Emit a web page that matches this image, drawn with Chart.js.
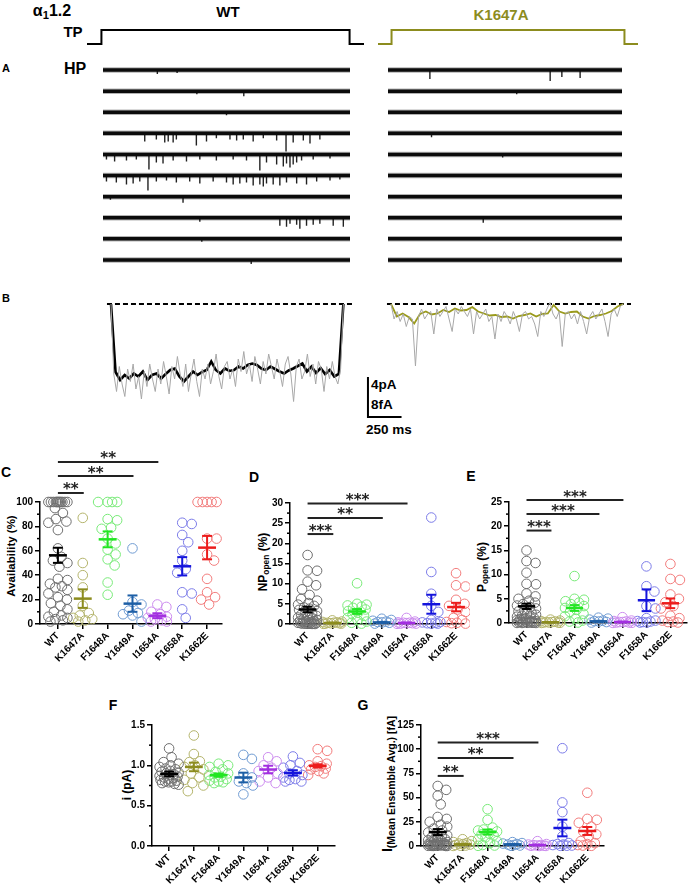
<!DOCTYPE html>
<html lang="en">
<head>
<meta charset="utf-8">
<title>Cav1.2 single channel</title>
<script src="https://cdn.jsdelivr.net/npm/chart.js"></script>
<style>
  body { margin: 0; background: #fff; }
  #fig { position: relative; width: 693px; height: 886px; overflow: hidden;
         font-family: "Liberation Sans", Arial, sans-serif; font-weight: bold; color: #000; }
  #fig canvas { position: absolute; }
  .t { position: absolute; transform: translate(-50%, -50%); white-space: nowrap; line-height: 1; }
  .l { position: absolute; transform: translateY(-50%); white-space: nowrap; line-height: 1; }
  .r { position: absolute; transform: translate(-50%, -50%) rotate(-90deg); white-space: nowrap; line-height: 1; font-size: 11.5px; }
  sub { font-size: 0.7em; vertical-align: -0.25em; }
</style>
</head>
<body>
<div id="fig">
  <div class="t" style="left:52px;top:12px;font-size:16px">α<sub>1</sub>1.2</div>
  <div class="t" style="left:73px;top:31px;font-size:15px">TP</div>
  <div class="t" style="left:228px;top:11px;font-size:15px">WT</div>
  <div class="t" style="left:501px;top:14px;font-size:15px;color:#8c8c1e">K1647A</div>
  <div class="t" style="left:6px;top:68px;font-size:11px">A</div>
  <div class="t" style="left:75px;top:69px;font-size:16px">HP</div>
  <div class="t" style="left:6px;top:298px;font-size:11px">B</div>
  <div class="l" style="left:371px;top:385px;font-size:13.5px">4pA</div>
  <div class="l" style="left:371px;top:405px;font-size:13.5px">8fA</div>
  <div class="l" style="left:366px;top:430px;font-size:13.5px">250 ms</div>

  <div class="t" style="left:6px;top:472px;font-size:14px">C</div>
  <div class="t" style="left:254px;top:477px;font-size:14px">D</div>
  <div class="t" style="left:471px;top:476px;font-size:14px">E</div>
  <div class="t" style="left:113px;top:705px;font-size:14px">F</div>
  <div class="t" style="left:363px;top:705px;font-size:14px">G</div>

  <div class="r" style="left:12px;top:556px">Availability (%)</div>
  <div class="r" style="left:264px;top:562px;font-size:12px">NP<sub>open</sub> (%)</div>
  <div class="r" style="left:483px;top:567px;font-size:12px">P<sub>open</sub> (%)</div>
  <div class="r" style="left:127px;top:785px;font-size:12px">i (pA)</div>
  <div class="r" style="left:388px;top:784px;font-size:14px">I<sub style="font-size:10.5px">(Mean Ensemble Avg.) [fA]</sub></div>
</div>

<script>
// ---- data ----
const categories = ['WT', 'K1647A', 'F1648A', 'Y1649A', 'I1654A', 'F1658A', 'K1662E'];

// C: availability (%)
const availability = [
  [100,100,100,100,100,100,100,100,100,100,100,100,95,91,86,84,83,77,62,55,52,50,47,37,36,33,31,30,28,25,22,20,17,15,12,10,7,6,5,4,3,2],
  [87,50,40,30,15,9,7,5,4,3,2],
  [100,100,100,100,86,85,79,78,70,66,61,57,53,48,34,24],
  [62,18,16,11,9,8,7,2],
  [16,14,10,8,6,5,4,3,2,2],
  [83,82,73,67,60,52,45,42,26,25,12,5],
  [100,100,100,100,100,70,70,57,52,37,26,22,20,16]
];
const availMean = [56.3, 20.8, 69.4, 16.7, 6.8, 47.3, 62.6];
const availSem = [6.2, 7.6, 6.5, 6.7, 2.0, 7.5, 9.6];

// D: NPopen (%)
const npOpen = [
  [17.1,13.3,13.2,10.5,9.6,8.6,7.2,6.2,5.8,5.2,4.8,4.5,4.1,3.8,3.5,3.2,2.9,2.6,2.3,2.0,1.8,1.6,1.4,1.2,1.0,0.9,0.8,0.7,0.6,0.5,0.4,0.3,0.3,0.2,0.2,0.1,0.1,0.1,0.05,0.05,0.02,0.01],
  [0.9,0.6,0.5,0.4,0.3,0.3,0.2,0.2,0.1,0.1,0.05],
  [10.1,5.0,4.8,4.6,4.3,4.0,3.6,3.2,2.8,2.4,2.0,1.5,1.0,0.6,0.3,0.1],
  [1.3,1.0,0.8,0.6,0.5,0.4,0.3,0.1],
  [1.5,0.6,0.4,0.3,0.3,0.2,0.2,0.1,0.1,0.05],
  [26.4,12.9,7.5,4.5,3.0,1.0,0.5,0.4,0.3,0.2,0.1,0.1],
  [12.6,9.6,9.3,6.0,5.0,4.5,3.6,3.0,1.5,1.0,0.5,0.3,0.2,0.1]
];
const npMean = [3.6, 0.25, 3.1, 0.4, 0.25, 4.9, 4.2];
const npSem = [0.7, 0.1, 0.6, 0.12, 0.1, 2.35, 1.05];

// E: Popen (%)
const pOpen = [
  [15.0,12.8,12.4,10.4,8.1,8.0,6.1,5.5,5.0,4.6,4.2,3.9,3.6,3.3,3.0,2.7,2.4,2.1,1.9,1.7,1.5,1.3,1.1,1.0,0.9,0.8,0.7,0.6,0.5,0.4,0.35,0.3,0.25,0.2,0.15,0.1,0.1,0.05,0.05,0.02,0.01,0.01],
  [0.7,0.5,0.4,0.3,0.2,0.2,0.1,0.1,0.1,0.05,0.02],
  [9.7,5.0,4.8,4.5,4.2,3.9,3.5,3.1,2.7,2.3,1.9,1.4,0.9,0.5,0.3,0.1],
  [1.1,0.9,0.7,0.5,0.4,0.3,0.2,0.1],
  [1.2,0.5,0.4,0.3,0.2,0.2,0.1,0.1,0.05,0.02],
  [11.7,7.6,6.5,3.5,3.0,1.0,0.5,0.4,0.3,0.2,0.1,0.1],
  [12.2,9.1,8.9,5.9,5.0,4.3,3.5,3.0,1.5,1.0,0.5,0.3,0.2,0.1]
];
const pMean = [3.45, 0.15, 3.1, 0.35, 0.2, 4.7, 4.07];
const pSem = [0.55, 0.05, 0.6, 0.1, 0.08, 2.25, 1.0];

// F: unitary current i (pA)
const unitary = [
  [1.21,1.10,1.04,1.02,1.00,0.98,0.96,0.95,0.93,0.92,0.91,0.90,0.89,0.88,0.87,0.86,0.85,0.84,0.83,0.82,0.81,0.80,0.80,0.79,0.78,0.77,0.76],
  [1.37,1.14,1.05,1.04,1.00,0.98,0.95,0.90,0.85,0.82,0.78,0.75,0.68],
  [1.02,1.00,0.98,0.95,0.92,0.90,0.88,0.86,0.85,0.83,0.81,0.80,0.79,0.78],
  [1.13,1.08,0.90,0.85,0.80,0.78,0.75,0.64],
  [1.10,1.05,1.00,0.97,0.93,0.90,0.85,0.80,0.78],
  [1.11,1.03,1.00,0.97,0.93,0.90,0.88,0.85,0.83,0.82,0.80,0.80],
  [1.20,1.18,1.05,1.02,1.00,0.99,0.98,0.96,0.95,0.93,0.90,0.88]
];
const unitMean = [0.894, 0.98, 0.878, 0.849, 0.948, 0.906, 0.993];
const unitSem = [0.029, 0.053, 0.02, 0.06, 0.047, 0.033, 0.02];

// G: mean ensemble average current (fA)
const ensembleI = [
  [62,58,52,43,30,28,25,22,20,18,16,14,12,11,10,9,8,7,6,5.5,5,4.5,4,3.5,3,2.5,2,2,1.5,1.5,1,1,0.8,0.6,0.5,0.4,0.3,0.2,0.2,0.1,0.1,0.05],
  [7,5,4,3,2.5,2,1.5,1,0.5,0.3,0.1],
  [38,27,19,17,16,15,13,12,11,9,7,5,3,1,0.5,0.2],
  [4,3,2.5,2,1.5,1,0.5,0.2],
  [5,2,1.5,1,0.8,0.5,0.3,0.2,0.1,0.05],
  [101,45,35,20,10,3,2,1.5,1,0.5,0.3,0.2],
  [55,28,27,24,20,15,12,10,5,3,2,1,0.5,0.2]
];
const ensMean = [14.4, 1.7, 14.4, 1.7, 1.0, 18.6, 15.5];
const ensSem = [3.1, 0.5, 2.6, 0.4, 0.4, 8.6, 4.1];

// comparisons vs WT (target group, label)
const availStars = [[1, '**'], [3, '**'], [4, '**']];
const npStars = [[1, '***'], [3, '**'], [4, '***']];
const pStars = [[1, '***'], [3, '***'], [4, '***']];
const ensStars = [[1, '**'], [3, '**'], [4, '***']];

// A: single channel sweeps, openings (fraction of sweep, amplitude pA)
const wtOpenPos = [
  [0.22, 0.30],
  [0.38, 0.57],
  [0.50],
  [0.169,0.216,0.25,0.264,0.284,0.297,0.378,0.419,0.459,0.514,0.541,0.568,0.608,0.649,0.703,0.741,0.77,0.811,0.838,0.878],
  [0.014,0.047,0.095,0.135,0.186,0.216,0.243,0.284,0.338,0.392,0.459,0.527,0.581,0.635,0.662,0.703,0.73,0.743,0.757,0.77,0.784,0.804,0.851,0.919],
  [0.014,0.054,0.095,0.122,0.149,0.182,0.216,0.257,0.297,0.351,0.392,0.446,0.5,0.527,0.554,0.581,0.608,0.635,0.649,0.662,0.689,0.716,0.743,0.784,0.824,0.865,0.919,0.959],
  [0.03, 0.324],
  [0.392,0.716,0.743,0.757,0.784,0.797,0.824,0.851,0.878,0.932,0.973],
  [0.40],
  [0.60]
];
const wtOpenAmp = [
  [0.4, 0.3],
  [0.3, 0.5],
  [0.3],
  [0.8,0.6,0.9,0.8,0.9,0.6,1.2,0.8,0.5,0.6,0.7,0.6,0.8,0.5,0.7,1.8,0.9,0.7,1.0,0.6],
  [0.5,0.7,0.6,0.5,1.5,0.8,0.9,0.6,0.7,0.5,0.6,0.5,0.6,1.6,0.8,1.0,1.2,0.9,1.3,1.0,0.8,0.6,0.5,0.4],
  [0.6,0.7,0.9,0.8,0.6,1.5,0.6,0.5,0.7,0.6,0.8,0.6,0.7,0.9,0.8,0.7,1.0,0.9,1.1,0.8,0.9,1.0,0.7,0.8,0.9,0.6,0.5,0.4],
  [0.3, 0.6],
  [0.4,0.8,0.9,0.6,0.7,1.1,0.8,0.7,0.6,0.8,0.9],
  [0.3],
  [0.4]
];
const kOpenPos = [[0.179, 0.693, 0.743, 0.821], [0.55], [], [0.186], [0.49], [], [], [0.407], [], []];
const kOpenAmp = [[0.9, 1.1, 0.7, 0.8], [0.3], [], [0.4], [0.3], [], [], [0.5], [], []];

// B: ensemble averages (fA), sampled evenly over the test pulse
const pulseMs = 1730;
const wtEnsemble = [0,-13.6,-15.2,-14.2,-14.9,-13.9,-14.5,-13.5,-15.2,-14.2,-13.9,-14.9,-14.0,-13.2,-12.9,-14.5,-15.5,-14.5,-13.5,-14.2,-13.6,-13.2,-11.5,-13.2,-13.9,-12.9,-13.4,-13.2,-12.5,-12.9,-12.2,-11.9,-12.2,-12.9,-13.2,-12.5,-13.0,-13.5,-13.9,-13.3,-12.9,-12.4,-11.9,-13.5,-12.5,-13.8,-12.8,-14.0,-13.2,-14.5,-14.0,0];
const wtEnsembleRaw = [0,-14,-17.5,-12.5,-16,-18.5,-13,-15.5,-12,-17,-14.5,-19,-13.5,-16.5,-12,-15,-17.5,-13,-16,-11.5,-14.5,-18,-12.5,-15,-10.5,-14,-16.5,-12,-17.5,-14,-11,-15.5,-18.5,-13,-15,-12,-16,-13.5,-10,-14.5,-17,-12.5,-11.5,-15,-13,-16.5,-11,-13.5,-9.5,-14,-12,-15.5,-10.5,-13,-16,-11.5,-14,-10,-12.5,-15,-11,-13.5,-16.5,-12,-10.5,-14,-19.5,-12.5,-11,-15,-13.5,-10,-14.5,-12,-16,-11.5,-13,-17.5,-12.5,-15,-11.5,-14.5,-16,-13,0];
const kEnsemble = [0,-2.5,-1.9,-2.6,-3.9,-2.0,-1.5,-2.1,-1.9,-1.2,-1.6,-0.9,-1.3,-1.2,-0.6,-1.5,-1.9,-2.3,-2.2,-2.6,-2.5,-2.9,-2.4,-2.2,-1.9,-2.5,-2.0,-1.9,-0.2,-1.5,-1.9,-1.6,-1.5,-2.5,-2.9,-2.4,-2.2,-1.9,-1.4,-0.5,0];
const kEnsembleRaw = [0,-3,-1.5,-3.5,-2,-4.5,-2.5,-3,-12.4,-2.5,-1,-3,-2,-1.5,-6,-1,-2.5,-1.5,-0.5,-3,-5.5,-1,-2,-0.5,-1.5,-2.5,-1,-6,-1.5,-3,-2,-1,-3.5,-2.5,-7,-2,-3.5,-1.5,-2.5,-4,-1.5,-3,-5.5,-2,-1.5,-3,-2.5,-4,-6.5,-1.5,-2.5,-1,0.3,-2,-3,-1.5,-8.5,-2,-1.5,-3,-2,-4,-1.5,-3.5,-6,-2.5,-1.5,-3,-2,-1,-3.5,-6.5,-2,-1,-2.5,-0.5,0];
const scaleBarFA = 8, scaleBarMs = 250;

// voltage protocol (HP = 0, TP = 1)
const protoTime = [-100, 0, 0, 1720, 1720, 1820];
const protoLevel = [0, 0, 1, 1, 0, 0];

// ---- styles ----
const olive = '#8c8c1e';
const lineColors = ['#000000', '#8c8c1e', '#22e622', '#1d5fa6', '#a22ee0', '#1414dc', '#ec1c1c'];
const ringColors = ['#6e6e6e', '#b4b46c', '#78ea78', '#6f9bd2', '#cc8cee', '#7c7ce8', '#f27c7c'];
const FONT = '"Liberation Sans", Arial, sans-serif';

function makeCanvas(x, y, w, h) {
  const c = document.createElement('canvas');
  c.width = w; c.height = h;
  c.style.left = x + 'px'; c.style.top = y + 'px';
  c.style.width = w + 'px'; c.style.height = h + 'px';
  document.getElementById('fig').appendChild(c);
  return c;
}

const quiet = () => ({
  responsive: false, animation: false, events: [],
  plugins: { legend: { display: false }, tooltip: { enabled: false } },
  elements: { point: { radius: 0 }, line: { tension: 0 } }
});

function line(ctx, x1, y1, x2, y2) {
  ctx.beginPath(); ctx.moveTo(x1, y1); ctx.lineTo(x2, y2); ctx.stroke();
}

// ---- voltage protocol ----
function protocol(x, w, color) {
  const c = makeCanvas(x, 23, w, 28);
  const o = quiet();
  o.scales = {
    x: { type: 'linear', display: false, min: -100, max: 1820 },
    y: { display: false, min: -0.5, max: 1.5 }
  };
  new Chart(c, {
    type: 'line',
    data: { datasets: [{ data: protoTime.map((t, i) => ({ x: t, y: protoLevel[i] })), borderColor: color, borderWidth: 2, clip: false }] },
    options: o
  });
}
protocol(87, 277, '#000');
protocol(378, 260, olive);

// ---- A: sweeps ----
const sweepGap = 2.1;
function sweeps(x, w, pos, amp) {
  const c = makeCanvas(x, 62, w, 206);
  const ds = [];
  pos.forEach((p, k) => {
    const base = -k * sweepGap;
    ds.push({ data: [{ x: 0, y: base }, { x: 1, y: base }], borderColor: 'rgba(0,0,0,0.3)', borderWidth: 5.5 });
    ds.push({ data: [{ x: 0, y: base }, { x: 1, y: base }], borderColor: '#111', borderWidth: 3.5 });
    const pts = [];
    p.forEach((t, j) => { pts.push({ x: t, y: base + 0.1 }, { x: t, y: base - amp[k][j] }, { x: t, y: null }); });
    ds.push({ data: pts, borderColor: '#222', borderWidth: 1.4, spanGaps: false });
  });
  const o = quiet();
  o.scales = {
    x: { type: 'linear', display: false, min: 0, max: 1 },
    y: { display: false, min: -19.7, max: 0.8 }
  };
  new Chart(c, { type: 'line', data: { datasets: ds }, options: o });
}
sweeps(103, 247, wtOpenPos, wtOpenAmp);
sweeps(388, 234, kOpenPos, kOpenAmp);

// ---- B: ensemble averages ----
const toSeries = (arr) => arr.map((v, i) => ({ x: i * pulseMs / (arr.length - 1), y: v }));
function ensemble(box, xr, yr, raw, avg, color, dashEnd, bar) {
  const c = makeCanvas(...box);
  const ds = [
    { data: toSeries(raw), borderColor: '#a8a8a8', borderWidth: 1 },
    { data: toSeries(avg), borderColor: color, borderWidth: color === '#000' ? 2.6 : 1.8 },
    { data: [{ x: -30, y: 0 }, { x: dashEnd, y: 0 }], borderColor: '#000', borderWidth: 1.8, borderDash: [5, 3] }
  ];
  if (bar) {
    const t0 = 1913, top = -14.6;
    ds.push({ data: [{ x: t0, y: top }, { x: t0, y: top - scaleBarFA }, { x: t0 + scaleBarMs, y: top - scaleBarFA }],
              borderColor: '#000', borderWidth: 2 });
  }
  const o = quiet();
  o.scales = {
    x: { type: 'linear', display: false, min: xr[0], max: xr[1] },
    y: { display: false, min: yr[0], max: yr[1] }
  };
  new Chart(c, { type: 'line', data: { datasets: ds }, options: o });
}
ensemble([100, 295, 310, 130], [-81.9, 2226], [-24.2, 1.8], wtEnsembleRaw, wtEnsemble, '#000', 1802, true);
ensemble([380, 295, 260, 80], [-81.9, 1854], [-14.2, 1.8], kEnsembleRaw, kEnsemble, '#9a9a1c', 1787, false);

// ---- scatter panels ----
const decor = {
  id: 'decor',
  afterDatasetsDraw(chart, args, o) {
    const { ctx, scales: { x, y } } = chart;
    const u = x.getPixelForValue(1) - x.getPixelForValue(0);
    ctx.save();
    o.mean.forEach((m, i) => {
      const cx = x.getPixelForValue(i), my = y.getPixelForValue(m);
      const lo = y.getPixelForValue(m - o.sem[i]), hi = y.getPixelForValue(m + o.sem[i]);
      ctx.strokeStyle = lineColors[i];
      ctx.lineWidth = 2.5; line(ctx, cx - 0.36 * u, my, cx + 0.36 * u, my);
      ctx.lineWidth = 2;
      line(ctx, cx, lo, cx, hi);
      line(ctx, cx - 0.2 * u, lo, cx + 0.2 * u, lo);
      line(ctx, cx - 0.2 * u, hi, cx + 0.2 * u, hi);
    });
    ctx.restore();
  },
  afterDraw(chart, args, o) {
    const { ctx, scales: { x, y }, chartArea } = chart;
    ctx.save();
    ctx.strokeStyle = '#000'; ctx.lineWidth = 1.5;
    const n = Math.round((y.max - y.min) / o.step);
    for (let k = 0; k < n; k++) {
      const py = y.getPixelForValue(y.min + (k + 0.5) * o.step);
      line(ctx, chartArea.left, py, chartArea.left - 3, py);
    }
    ctx.font = 'bold 15px "DejaVu Sans", sans-serif';
    ctx.textAlign = 'center'; ctx.textBaseline = 'alphabetic';
    ctx.fillStyle = '#222'; ctx.strokeStyle = '#222'; ctx.lineWidth = 2;
    o.stars.forEach((s, k) => {
      const x1 = x.getPixelForValue(0), x2 = x.getPixelForValue(s[0] + 0.04);
      const py = y.getPixelForValue(o.levels[k]);
      line(ctx, x1, py, x2, py);
      ctx.fillText(s[1], (x1 + x2) / 2, py + 1.5);
    });
    ctx.restore();
  }
};

function swarmOffsets(vals, toPy, r, maxOff) {
  const placed = [];
  const cands = [0];
  for (let s = 0.5; s <= maxOff; s += 0.5) cands.push(s, -s);
  return vals.map(v => {
    const py = toPy(v);
    let best = 0, bestGap = -1;
    for (const c of cands) {
      let gap = Infinity;
      for (const p of placed) gap = Math.min(gap, Math.hypot(p.x - c, p.y - py));
      if (gap >= 2 * r) { best = c; break; }
      if (gap > bestGap + 0.01) { bestGap = gap; best = c; }
    }
    placed.push({ x: best, y: py });
    return best;
  });
}

function scatterPanel(p) {
  const [bx, by, bw, bh] = p.box;
  const [l, r, t, b] = p.area;
  const yw = 36;
  const c = makeCanvas(bx, by, bw, bh);
  const tickFont = { family: FONT, weight: 'bold', size: 10 };
  const axisGrid = { drawOnChartArea: false, drawTicks: true, tickLength: 5, color: '#000', lineWidth: 1.5 };
  const o = quiet();
  o.layout = { padding: { left: l - bx - yw, top: t - by, right: bx + bw - r, bottom: 0 } };
  o.plugins.decor = { mean: p.mean, sem: p.sem, stars: p.stars, levels: p.levels, step: p.y[2] };
  o.scales = {
    x: {
      type: 'linear', min: p.x[0], max: p.x[1],
      afterBuildTicks: s => { s.ticks = categories.map((c, i) => ({ value: i })); },
      afterFit: s => { s.height = by + bh - b; },
      ticks: { callback: v => categories[v], autoSkip: false, minRotation: 45, maxRotation: 45,
               font: { family: FONT, weight: 'bold', size: 10 }, color: '#000', padding: 1 },
      grid: axisGrid, border: { color: '#000', width: 1.5 }
    },
    y: {
      min: p.y[0], max: p.y[1],
      afterFit: s => { s.width = yw; },
      ticks: { stepSize: p.y[2], font: tickFont, color: '#000', padding: 2, callback: p.fmt },
      grid: axisGrid, border: { color: '#000', width: 1.5 }
    }
  };
  const chart = new Chart(c, {
    type: 'scatter',
    data: {
      datasets: p.groups.map((vals, i) => ({
        data: vals.map(v => ({ x: i, y: v })),
        borderColor: ringColors[i], backgroundColor: 'rgba(0,0,0,0)',
        pointRadius: 4.8, pointHoverRadius: 4.8, pointBorderWidth: 1, clip: false
      }))
    },
    options: o,
    plugins: [decor]
  });
  const sx = chart.scales.x, sy = chart.scales.y;
  const u = sx.getPixelForValue(1) - sx.getPixelForValue(0);
  chart.data.datasets.forEach((ds, i) => {
    const offs = swarmOffsets(p.groups[i], v => sy.getPixelForValue(v), 4.6, 9.5);
    ds.data.forEach((pt, j) => { pt.x = i + offs[j] / u; });
  });
  chart.update('none');
}

scatterPanel({ box: [0, 440, 232, 260], area: [40, 222, 502, 624], x: [-0.72, 6.6], y: [0, 100, 20],
  groups: availability, mean: availMean, sem: availSem, stars: availStars, levels: [107.4, 121.3, 132.8], fmt: v => v });
scatterPanel({ box: [236, 440, 234, 260], area: [290, 465, 503, 624], x: [-0.71, 6.33], y: [0, 30, 5],
  groups: npOpen, mean: npMean, sem: npSem, stars: npStars, levels: [22.3, 26.3, 29.9], fmt: v => v });
scatterPanel({ box: [470, 440, 223, 260], area: [509, 690, 502, 623], x: [-0.73, 6.7], y: [0, 25, 5],
  groups: pOpen, mean: pMean, sem: pSem, stars: pStars, levels: [19.1, 22.5, 25.4], fmt: v => v });
scatterPanel({ box: [100, 690, 245, 196], area: [152, 335, 725, 846], x: [-0.69, 6.7], y: [0, 1.5, 0.5],
  groups: unitary, mean: unitMean, sem: unitSem, stars: [], levels: [], fmt: v => v.toFixed(1) });
scatterPanel({ box: [370, 690, 250, 196], area: [421, 604, 725, 846], x: [-0.67, 6.67], y: [0, 125, 25],
  groups: ensembleI, mean: ensMean, sem: ensSem, stars: ensStars, levels: [72.4, 91, 106.9], fmt: v => v });
</script>
</body>
</html>
